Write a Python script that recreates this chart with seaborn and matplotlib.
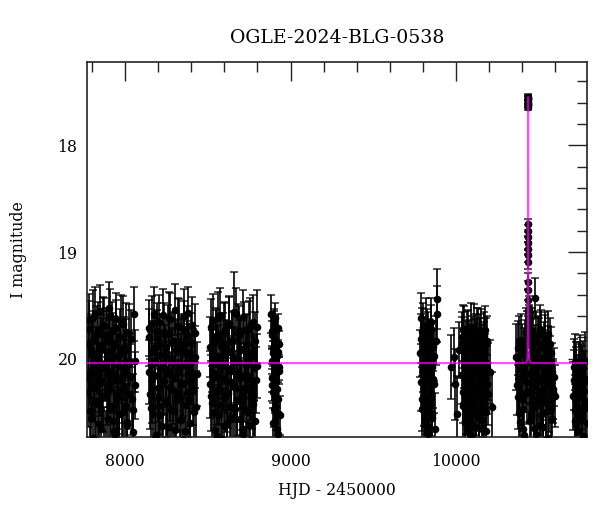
import numpy as np
import pandas as pd
import seaborn as sns
import matplotlib
matplotlib.use("Agg")
import matplotlib.pyplot as plt
from matplotlib.ticker import MultipleLocator

# season 1
s1_t = [7772, 7778, 7783, 7790, 7795, 7801, 7806, 7812, 7818, 7823, 7829, 7835, 7840, 7846, 7851, 7857,
        7863, 7868, 7874, 7880, 7885, 7891, 7897, 7902, 7908, 7914, 7919, 7925, 7931, 7936, 7942, 7948,
        7953, 7959, 7965, 7970, 7976, 7982, 7988, 7994, 8000, 8007, 8014, 8022, 8031, 8040, 8050, 8058]
s1_m = [19.86, 20.31, 19.72, 20.12, 20.55, 19.94, 19.61, 20.27, 20.83, 19.99, 19.78, 20.42, 20.08, 19.55, 20.19, 20.66,
        19.90, 20.36, 19.69, 20.05, 20.91, 19.83, 20.24, 19.52, 20.47, 20.01, 19.74, 20.58, 20.14, 19.88, 20.71, 19.63,
        20.33, 19.97, 20.52, 19.80, 20.21, 20.78, 19.67, 20.09, 20.44, 19.92, 20.62, 19.76, 20.17, 20.38, 20.69, 20.02]
s1_e = [0.28, 0.33, 0.26, 0.30, 0.36, 0.29, 0.25, 0.32, 0.40, 0.29, 0.27, 0.34, 0.30, 0.24, 0.31, 0.37,
        0.28, 0.33, 0.26, 0.30, 0.42, 0.28, 0.31, 0.24, 0.35, 0.29, 0.27, 0.36, 0.31, 0.28, 0.38, 0.25,
        0.33, 0.29, 0.35, 0.27, 0.31, 0.39, 0.26, 0.30, 0.34, 0.29, 0.37, 0.27, 0.31, 0.33, 0.38, 0.29]
s1b_t = [7775, 7781, 7787, 7792, 7798, 7804, 7809, 7815, 7821, 7826, 7832, 7838, 7843, 7849, 7854, 7860,
         7866, 7871, 7877, 7883, 7888, 7894, 7900, 7905, 7911, 7917, 7922, 7928, 7934, 7939, 7945, 7951,
         7956, 7962, 7968, 7973, 7979, 7985, 7991, 7997, 8003, 8010, 8018, 8026, 8035, 8045, 8054, 8061]
s1b_m = [20.18, 19.64, 20.49, 19.91, 20.26, 20.74, 19.82, 20.13, 19.57, 20.40, 20.04, 19.73, 20.61, 20.23, 19.87, 20.35,
         19.68, 20.86, 20.10, 19.79, 20.30, 20.56, 19.93, 20.15, 19.60, 20.44, 20.00, 19.85, 20.68, 20.20, 19.71, 20.37,
         20.07, 20.80, 19.95, 19.66, 20.28, 20.50, 19.89, 20.12, 19.75, 20.59, 20.03, 20.33, 19.81, 20.48, 19.58, 20.25]
s1b_e = [0.31, 0.25, 0.35, 0.29, 0.32, 0.38, 0.27, 0.30, 0.24, 0.34, 0.29, 0.26, 0.37, 0.31, 0.28, 0.33,
         0.26, 0.41, 0.30, 0.27, 0.32, 0.36, 0.29, 0.30, 0.25, 0.34, 0.29, 0.28, 0.37, 0.31, 0.26, 0.33,
         0.30, 0.39, 0.29, 0.26, 0.32, 0.35, 0.28, 0.30, 0.27, 0.36, 0.29, 0.33, 0.27, 0.34, 0.25, 0.31]

# season 2
s2_t = [8142, 8147, 8154, 8160, 8165, 8172, 8178, 8183, 8190, 8196, 8201, 8208, 8214, 8220, 8227, 8232,
        8238, 8245, 8250, 8256, 8263, 8268, 8274, 8281, 8286, 8292, 8299, 8304, 8310, 8317, 8322, 8328,
        8335, 8340, 8346, 8353, 8358, 8364, 8371, 8376, 8382, 8389, 8394, 8400, 8407, 8412, 8420, 8430]
s2_m = [20.12, 19.71, 20.46, 19.93, 20.28, 19.58, 20.74, 20.03, 19.81, 20.37, 20.15, 19.66, 20.53, 19.96, 20.22, 20.86,
        19.75, 20.10, 19.89, 20.41, 20.64, 19.62, 20.26, 20.00, 19.84, 20.49, 19.54, 20.18, 20.79, 19.91, 20.34, 19.70,
        20.07, 20.57, 19.86, 20.23, 19.60, 20.68, 20.04, 19.78, 20.39, 19.95, 20.88, 20.13, 19.68, 20.30, 19.98, 20.45]
s2_e = [0.30, 0.26, 0.34, 0.28, 0.32, 0.25, 0.38, 0.29, 0.27, 0.33, 0.31, 0.26, 0.35, 0.29, 0.31, 0.41,
        0.27, 0.30, 0.28, 0.34, 0.37, 0.25, 0.32, 0.29, 0.27, 0.35, 0.24, 0.31, 0.39, 0.28, 0.33, 0.26,
        0.30, 0.36, 0.28, 0.31, 0.25, 0.37, 0.29, 0.27, 0.34, 0.28, 0.42, 0.30, 0.26, 0.32, 0.29, 0.34]
s2b_t = [8145, 8151, 8157, 8163, 8169, 8175, 8181, 8187, 8193, 8199, 8205, 8211, 8217, 8223, 8229, 8235,
         8241, 8247, 8253, 8259, 8265, 8271, 8277, 8283, 8289, 8295, 8301, 8307, 8313, 8319, 8325, 8331,
         8337, 8343, 8349, 8355, 8361, 8367, 8373, 8379, 8385, 8391, 8397, 8403, 8409, 8415, 8424, 8434]
s2b_m = [19.80, 20.33, 20.05, 19.67, 20.52, 20.16, 19.90, 20.71, 19.74, 20.27, 20.44, 19.86, 20.09, 20.63, 19.59, 20.21,
         19.97, 20.39, 20.82, 19.77, 20.14, 19.63, 20.48, 20.02, 20.29, 19.83, 20.67, 19.92, 20.36, 19.69, 20.11, 20.57,
         19.88, 20.24, 20.76, 19.72, 20.06, 20.43, 19.94, 19.57, 20.31, 20.60, 19.85, 20.19, 20.01, 20.50, 19.76, 20.14]
s2b_e = [0.27, 0.33, 0.30, 0.26, 0.35, 0.31, 0.28, 0.38, 0.26, 0.32, 0.34, 0.28, 0.30, 0.37, 0.24, 0.31,
         0.29, 0.34, 0.40, 0.27, 0.30, 0.25, 0.35, 0.29, 0.32, 0.27, 0.37, 0.28, 0.33, 0.26, 0.30, 0.36,
         0.28, 0.31, 0.39, 0.26, 0.29, 0.34, 0.29, 0.24, 0.32, 0.36, 0.28, 0.31, 0.29, 0.35, 0.27, 0.30]

# season 3
s3_t = [8512, 8518, 8524, 8530, 8535, 8541, 8548, 8553, 8559, 8566, 8571, 8577, 8584, 8589, 8595, 8602,
        8607, 8613, 8620, 8625, 8631, 8638, 8643, 8649, 8656, 8661, 8667, 8674, 8679, 8685, 8692, 8697,
        8703, 8710, 8715, 8721, 8728, 8733, 8739, 8746, 8751, 8757, 8764, 8769, 8775, 8781, 8788, 8796]
s3_m = [19.89, 20.35, 20.02, 19.64, 20.51, 20.17, 19.79, 20.72, 19.97, 20.29, 19.59, 20.43, 20.08, 19.85, 20.63, 19.73,
        20.20, 20.90, 19.94, 20.32, 19.68, 20.11, 20.55, 19.82, 20.25, 19.56, 20.47, 20.01, 20.81, 19.76, 20.16, 19.92,
        20.38, 20.66, 19.61, 20.27, 20.06, 19.87, 20.50, 19.72, 20.19, 20.76, 19.95, 20.33, 19.66, 20.09, 20.58, 19.70]
s3_e = [0.28, 0.33, 0.29, 0.25, 0.35, 0.31, 0.27, 0.38, 0.29, 0.32, 0.25, 0.34, 0.30, 0.28, 0.36, 0.26,
        0.31, 0.42, 0.29, 0.33, 0.26, 0.30, 0.35, 0.27, 0.32, 0.37, 0.34, 0.29, 0.39, 0.27, 0.31, 0.28,
        0.33, 0.37, 0.25, 0.32, 0.30, 0.28, 0.35, 0.26, 0.31, 0.38, 0.29, 0.33, 0.26, 0.30, 0.36, 0.34]
s3b_t = [8515, 8521, 8527, 8533, 8538, 8544, 8550, 8556, 8562, 8568, 8574, 8580, 8586, 8592, 8598, 8604,
         8610, 8616, 8622, 8628, 8634, 8640, 8646, 8652, 8658, 8664, 8670, 8676, 8682, 8688, 8694, 8700,
         8706, 8712, 8718, 8724, 8730, 8736, 8742, 8748, 8754, 8760, 8766, 8772, 8778, 8784, 8791, 8799]
s3b_m = [20.24, 19.70, 20.41, 19.96, 20.13, 20.67, 19.81, 20.30, 19.62, 20.53, 20.04, 19.88, 20.75, 20.18, 19.75, 20.36,
         19.93, 20.60, 20.09, 19.67, 20.45, 20.22, 19.84, 20.84, 19.99, 20.27, 19.58, 20.39, 20.12, 19.78, 20.56, 19.91,
         20.34, 20.70, 19.73, 20.15, 20.48, 19.86, 20.03, 20.62, 19.69, 20.26, 19.97, 20.42, 20.79, 19.83, 20.20, 20.07]
s3b_e = [0.31, 0.26, 0.34, 0.29, 0.30, 0.37, 0.27, 0.32, 0.25, 0.35, 0.29, 0.28, 0.38, 0.31, 0.27, 0.33,
         0.29, 0.36, 0.30, 0.26, 0.34, 0.31, 0.28, 0.41, 0.29, 0.32, 0.24, 0.33, 0.30, 0.27, 0.35, 0.28,
         0.33, 0.38, 0.26, 0.30, 0.34, 0.28, 0.29, 0.36, 0.26, 0.31, 0.29, 0.34, 0.39, 0.27, 0.31, 0.30]

# season 4 (short)
s4_t = [8884, 8887, 8890, 8893, 8896, 8899, 8902, 8905, 8908, 8911, 8914, 8917, 8920, 8923, 8926, 8929,
        8932, 8935, 8888, 8906, 8915, 8927]
s4_m = [19.58, 20.02, 19.74, 20.31, 19.90, 20.47, 19.66, 20.13, 20.58, 19.83, 20.22, 19.97, 20.66, 19.71, 20.38, 20.08,
        19.86, 20.53, 20.18, 19.62, 20.44, 19.94]
s4_e = [0.18, 0.12, 0.14, 0.15, 0.12, 0.17, 0.13, 0.12, 0.19, 0.12, 0.13, 0.12, 0.20, 0.13, 0.16, 0.12,
        0.12, 0.18, 0.13, 0.14, 0.17, 0.12]
s4b_t = [8885, 8889, 8892, 8895, 8898, 8901, 8904, 8910, 8913, 8919, 8924, 8931]
s4b_m = [19.78, 20.25, 19.95, 20.60, 20.05, 19.69, 20.35, 20.50, 19.88, 20.28, 20.70, 20.11]
s4b_e = [0.13, 0.15, 0.12, 0.19, 0.12, 0.14, 0.16, 0.17, 0.12, 0.15, 0.20, 0.13]

# season 5
s5_t = [9785, 9789, 9793, 9797, 9801, 9805, 9809, 9813, 9817, 9821, 9825, 9829, 9833, 9837, 9841, 9845,
        9849, 9853, 9857, 9861, 9865, 9869, 9873, 9877, 9882, 9886]
s5_m = [19.95, 19.62, 20.38, 19.74, 20.12, 20.61, 19.85, 20.27, 19.68, 20.49, 20.03, 19.79, 20.70, 20.18, 19.91, 20.42,
        19.72, 20.08, 20.55, 19.88, 20.24, 19.97, 20.66, 19.83, 19.44, 19.58]
s5_e = [0.22, 0.24, 0.30, 0.22, 0.26, 0.33, 0.24, 0.28, 0.25, 0.31, 0.25, 0.23, 0.35, 0.27, 0.24, 0.30,
        0.22, 0.25, 0.32, 0.23, 0.27, 0.24, 0.34, 0.23, 0.28, 0.26]
s5b_t = [9787, 9791, 9795, 9799, 9803, 9807, 9811, 9815, 9819, 9823, 9827, 9831, 9835, 9839, 9843, 9847,
         9851, 9855, 9859, 9863]
s5b_m = [20.22, 19.81, 20.47, 20.06, 19.70, 20.34, 20.58, 19.93, 20.15, 19.76, 20.40, 20.01, 20.64, 19.87, 20.29, 19.66,
         20.10, 20.52, 19.98, 20.19]
s5b_e = [0.27, 0.23, 0.31, 0.25, 0.22, 0.29, 0.32, 0.24, 0.27, 0.23, 0.30, 0.25, 0.34, 0.24, 0.28, 0.23,
         0.26, 0.31, 0.25, 0.27]

# season 6
s6_t = [9972, 9985, 9996, 10008, 10020, 10036, 10040, 10044, 10048, 10052, 10056, 10060, 10064, 10068, 10072, 10076,
        10080, 10084, 10088, 10092, 10096, 10100, 10104, 10108, 10112, 10116, 10120, 10124, 10128, 10132, 10136, 10140,
        10144, 10148, 10152, 10156, 10160, 10164, 10168, 10172, 10176, 10180, 10184, 10188, 10192, 10205, 10218]
s6_m = [20.08, 19.98, 20.24, 20.52, 19.92, 19.85, 20.31, 19.72, 20.14, 20.58, 19.95, 20.40, 19.78, 20.21, 20.69, 20.02,
        19.88, 20.35, 19.70, 20.17, 20.62, 19.93, 20.46, 20.06, 19.81, 20.28, 20.77, 19.99, 19.74, 20.38, 20.11, 20.55,
        19.86, 20.25, 19.76, 20.66, 20.04, 20.43, 19.90, 20.19, 19.73, 20.50, 20.09, 19.83, 20.33, 20.12, 20.45]
s6_e = [0.30, 0.27, 0.33, 0.36, 0.26, 0.24, 0.29, 0.22, 0.27, 0.33, 0.25, 0.30, 0.23, 0.27, 0.35, 0.25,
        0.24, 0.29, 0.22, 0.26, 0.34, 0.24, 0.31, 0.25, 0.23, 0.28, 0.37, 0.25, 0.22, 0.30, 0.26, 0.32,
        0.24, 0.28, 0.23, 0.34, 0.25, 0.30, 0.24, 0.27, 0.22, 0.31, 0.26, 0.23, 0.29, 0.30, 0.33]
s6b_t = [10034, 10038, 10042, 10046, 10050, 10054, 10058, 10062, 10066, 10070, 10074, 10078, 10082, 10086, 10090, 10094,
         10098, 10102, 10106, 10110, 10114, 10118, 10122, 10126, 10130, 10134, 10138, 10142, 10146, 10150, 10154, 10158,
         10162, 10166, 10170, 10174, 10178, 10182, 10186, 10190]
s6b_m = [20.15, 19.80, 20.44, 20.01, 19.73, 20.60, 20.23, 19.89, 20.36, 20.07, 19.77, 20.52, 20.18, 19.94, 20.71, 19.84,
         20.29, 20.04, 19.71, 20.41, 20.13, 19.87, 20.64, 20.26, 19.96, 19.75, 20.48, 20.10, 19.82, 20.34, 20.57, 19.92,
         20.20, 19.79, 20.45, 20.03, 20.68, 19.86, 20.24, 20.12]
s6b_e = [0.27, 0.24, 0.31, 0.26, 0.22, 0.33, 0.28, 0.24, 0.30, 0.26, 0.23, 0.32, 0.27, 0.25, 0.35, 0.24,
         0.29, 0.26, 0.22, 0.30, 0.27, 0.24, 0.34, 0.28, 0.25, 0.23, 0.31, 0.26, 0.24, 0.29, 0.33, 0.25,
         0.27, 0.23, 0.31, 0.26, 0.34, 0.24, 0.28, 0.27]

# season 7 (baseline part)
s7_t = [10362, 10372, 10378, 10384, 10390, 10396, 10402, 10408, 10414, 10420, 10426, 10430, 10442, 10446, 10450, 10455,
        10460, 10465, 10470, 10476, 10480, 10485, 10490, 10495, 10500, 10505, 10510, 10515, 10520, 10525, 10530, 10535,
        10540, 10545, 10550, 10555, 10560, 10566, 10572, 10578, 10585, 10592, 10598]
s7_m = [19.98, 20.36, 19.84, 20.59, 20.10, 19.92, 20.47, 20.71, 19.88, 20.22, 20.03, 19.78, 20.30, 19.81, 20.15, 20.54,
        19.74, 20.26, 20.65, 19.43, 20.07, 19.79, 20.41, 20.18, 19.86, 20.62, 20.00, 19.76, 20.33, 20.80, 19.90, 20.13,
        19.82, 20.49, 20.21, 19.77, 20.39, 20.05, 19.95, 20.56, 20.28, 20.17, 20.35]
s7_e = [0.31, 0.30, 0.24, 0.33, 0.27, 0.25, 0.31, 0.36, 0.24, 0.28, 0.26, 0.23, 0.29, 0.24, 0.27, 0.32,
        0.22, 0.28, 0.34, 0.19, 0.26, 0.23, 0.30, 0.27, 0.24, 0.33, 0.25, 0.22, 0.29, 0.38, 0.24, 0.27,
        0.23, 0.31, 0.28, 0.22, 0.30, 0.26, 0.25, 0.33, 0.28, 0.27, 0.29]
s7b_t = [10367, 10375, 10381, 10387, 10393, 10399, 10405, 10411, 10417, 10423, 10428, 10444, 10448, 10452, 10458, 10463,
         10468, 10473, 10478, 10483, 10488, 10493, 10498, 10503, 10508, 10513, 10518, 10523, 10528, 10533, 10538, 10543,
         10548, 10553, 10558, 10563, 10569, 10575, 10581, 10588]
s7b_m = [20.25, 19.90, 20.51, 20.07, 19.82, 20.38, 20.66, 19.96, 20.14, 19.75, 20.32, 20.02, 20.58, 19.87, 20.23, 19.78,
         20.45, 20.11, 19.93, 20.70, 20.19, 19.84, 20.37, 20.06, 19.72, 20.53, 20.28, 19.98, 20.64, 20.16, 19.80, 20.42,
         20.09, 19.94, 20.74, 20.24, 19.86, 20.47, 20.12, 20.31]
s7b_e = [0.28, 0.25, 0.32, 0.26, 0.24, 0.30, 0.35, 0.25, 0.27, 0.23, 0.29, 0.26, 0.33, 0.24, 0.28, 0.23,
         0.31, 0.27, 0.25, 0.36, 0.28, 0.24, 0.30, 0.26, 0.22, 0.32, 0.29, 0.25, 0.34, 0.27, 0.24, 0.31,
         0.26, 0.25, 0.37, 0.28, 0.24, 0.31, 0.27, 0.29]

# event peak
pk_t = [10435.3, 10435.4, 10435.5, 10435.5, 10435.6, 10435.7, 10435.8, 10435.9, 10436.6, 10436.7, 10436.8,
        10436.9, 10437.0, 10437.1, 10437.2, 10434.2, 10434.0, 10433.6, 10438.2, 10438.6, 10439.5, 10433.0]
pk_m = [17.57, 17.55, 17.60, 17.62, 17.58, 17.64, 17.56, 17.61, 18.74, 18.80, 18.86,
        18.92, 18.97, 19.03, 19.09, 19.28, 19.36, 19.45, 19.52, 19.62, 19.70, 19.75]
pk_e = [0.03, 0.03, 0.03, 0.03, 0.03, 0.03, 0.03, 0.03, 0.05, 0.05, 0.05,
        0.06, 0.06, 0.06, 0.07, 0.08, 0.09, 0.10, 0.11, 0.12, 0.14, 0.15]

# season 8
s8_t = [10708, 10713, 10718, 10722, 10727, 10731, 10736, 10740, 10745, 10749, 10754, 10758, 10763, 10767, 10772, 10776,
        10781, 10786]
s8_m = [20.35, 20.08, 20.58, 20.12, 20.14, 20.44, 20.68, 20.22, 20.25, 20.05, 20.10, 20.50, 20.16, 20.72, 20.18, 20.30,
        20.02, 20.40]
s8_e = [0.32, 0.27, 0.34, 0.28, 0.25, 0.31, 0.36, 0.26, 0.29, 0.27, 0.24, 0.32, 0.28, 0.37, 0.25, 0.30,
        0.27, 0.31]
s8b_t = [10710, 10716, 10720, 10725, 10733, 10742, 10751, 10760, 10769, 10778, 10784, 10789]
s8b_m = [20.20, 20.48, 20.03, 20.62, 20.27, 20.11, 20.55, 20.36, 20.09, 20.46, 20.21, 20.60]
s8b_e = [0.28, 0.33, 0.26, 0.35, 0.29, 0.27, 0.33, 0.30, 0.26, 0.32, 0.28, 0.34]

# model curve
model_t = [7700, 10418, 10426, 10430, 10432.5, 10434, 10435, 10435.5, 10436, 10437, 10438.5, 10441, 10445, 10453, 10900]
model_m = [20.04, 20.04, 20.03, 20.01, 19.96, 19.80, 19.00, 17.55, 18.60, 19.55, 19.88, 19.99, 20.02, 20.04, 20.04]

phot = pd.DataFrame({
    'hjd': s1_t + s1b_t + s2_t + s2b_t + s3_t + s3b_t + s4_t + s4b_t + s5_t + s5b_t
           + s6_t + s6b_t + s7_t + s7b_t + pk_t + s8_t + s8b_t,
    'mag': s1_m + s1b_m + s2_m + s2b_m + s3_m + s3b_m + s4_m + s4b_m + s5_m + s5b_m
           + s6_m + s6b_m + s7_m + s7b_m + pk_m + s8_m + s8b_m,
    'err': s1_e + s1b_e + s2_e + s2b_e + s3_e + s3b_e + s4_e + s4b_e + s5_e + s5b_e
           + s6_e + s6b_e + s7_e + s7b_e + pk_e + s8_e + s8b_e,
})
model = pd.DataFrame({'hjd': model_t, 'mag': model_m})

sns.set_style('white')
plt.rcParams['font.family'] = ['DejaVu Serif']
plt.rcParams['font.size'] = 11.3
for key in ['text.color', 'axes.labelcolor', 'xtick.color', 'ytick.color']:
    plt.rcParams[key] = 'black'

fig = plt.figure(figsize=(6, 5.12), dpi=100)
ax = fig.add_axes([0.145, 0.147, 0.833, 0.732])

ax.errorbar(phot['hjd'], phot['mag'], yerr=phot['err'], fmt='none', ecolor='black',
            elinewidth=1.4, capsize=2.6, capthick=1.1, alpha=0.85, zorder=2)
sns.scatterplot(data=phot, x='hjd', y='mag', ax=ax, color='black', s=30,
                edgecolor='black', linewidth=0, zorder=3)
sns.lineplot(data=model, x='hjd', y='mag', ax=ax, sort=False, color='magenta',
             linewidth=1.5, alpha=0.7, zorder=4)

ax.set_xlim(7770, 10790)
ax.set_ylim(20.73, 17.22)
ax.xaxis.set_major_locator(MultipleLocator(1000))
ax.xaxis.set_minor_locator(MultipleLocator(200))
ax.yaxis.set_major_locator(MultipleLocator(1))
ax.yaxis.set_minor_locator(MultipleLocator(0.2))
ax.tick_params(which='both', direction='in', top=True, right=True, width=1.0, color='#222222')
ax.tick_params(which='major', length=13.5)
ax.tick_params(which='minor', length=7)
ax.tick_params(axis='x', which='major', pad=12)
ax.tick_params(axis='y', which='major', pad=7)
for sp in ax.spines.values():
    sp.set_linewidth(1.2)
    sp.set_color('#222222')

ax.set_xlabel('HJD - 2450000', labelpad=8)
ax.set_ylabel('I magnitude', labelpad=22)
ax.set_title('OGLE-2024-BLG-0538', pad=14)

fig.savefig('out.png', dpi=100)
